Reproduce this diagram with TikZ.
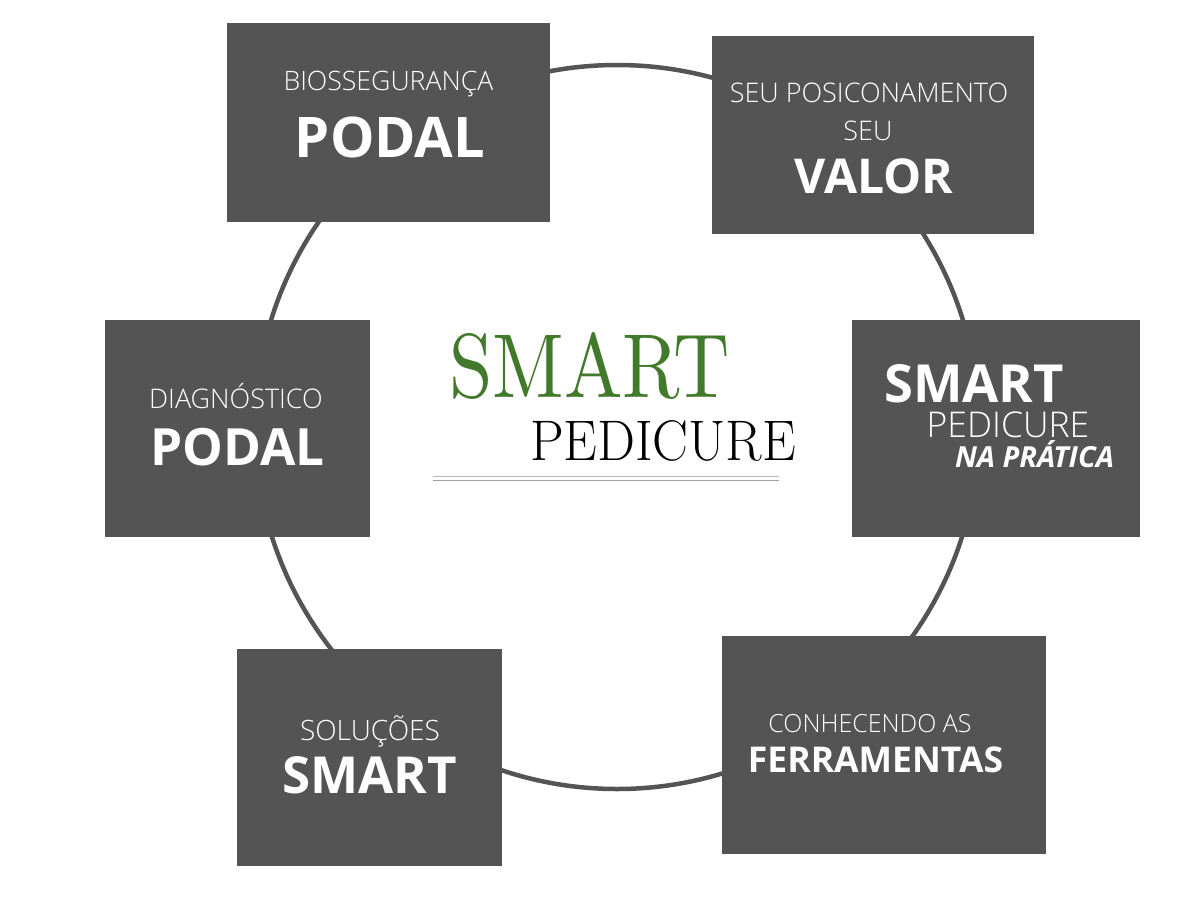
\documentclass[tikz,border=0pt]{standalone}
\usepackage{fontspec}
\usepackage{graphicx}
\setmainfont{Open Sans}
\IfFontExistsTF{Open Sans Light}{\newfontfamily\lightf{Open Sans Light}}{\newfontfamily\lightf{Open Sans}}
\newfontfamily\didone{lmroman17-regular.otf}
\newfontfamily\didoneheavy{lmroman10-regular.otf}
\definecolor{boxgray}{RGB}{84,84,84}
\definecolor{smartgreen}{RGB}{66,122,44}
\definecolor{ringgray}{RGB}{84,84,84}
\begin{document}
\begin{tikzpicture}[x=1pt,y=-1pt,
  box/.style={fill=boxgray, draw=none, inner sep=0pt, outer sep=0pt},
  lt/.style={text=white, anchor=base, inner sep=0pt, font=\lightf},
  bd/.style={text=white, anchor=base, inner sep=0pt, font=\bfseries},
  ring/.style={draw=ringgray, line width=4.5pt},
  title/.style={anchor=base, inner sep=0pt}]
\fill[white] (0,0) rectangle (1200,900);
\useasboundingbox (0,0) rectangle (1200,900);
% ring
\coordinate (c) at (617,427);
\draw[ring] (c) circle[radius=362pt];
% boxes
\node[box, minimum width=323pt, minimum height=199pt] (b1) at (388.5,122.5) {};
\node[box, minimum width=322pt, minimum height=198pt] (b2) at (873,135) {};
\node[box, minimum width=288pt, minimum height=217pt] (b3) at (996,428.5) {};
\node[box, minimum width=265pt, minimum height=217pt] (b4) at (237.5,428.5) {};
\node[box, minimum width=265pt, minimum height=217pt] (b5) at (369.5,757.5) {};
\node[box, minimum width=324pt, minimum height=218pt] (b6) at (884,745) {};
% box 1
\node[lt] (t1a) at (388.5,90) {\fontsize{26.7}{27}\selectfont BIOSSEGURANÇA};
\node[bd] (t1b) at (390,157) {\fontsize{56}{56}\selectfont PODAL};
% box 2
\node[lt] (t2a) at (869,102) {\fontsize{27}{27}\selectfont SEU POSICONAMENTO};
\node[lt] (t2b) at (868,140) {\fontsize{27}{27}\selectfont SEU};
\node[bd] (t2c) at (874,193) {\fontsize{48}{48}\selectfont VALOR};
% box 3
\node[bd] (t3a) at (974,402) {\fontsize{52.5}{52}\selectfont SMART};
\node[lt] (t3b) at (1008,437) {\fontsize{35.5}{35}\selectfont PEDICURE};
\node[bd] (t3c) at (1034.5,467) {\fontsize{29}{29}\selectfont\itshape NA PRÁTICA};
% box 4
\node[lt] (t4a) at (236,408) {\fontsize{27}{27}\selectfont DIAGNÓSTICO};
\node[bd] (t4b) at (237.5,465) {\fontsize{51.3}{51}\selectfont PODAL};
% box 5
\node[lt] (t5a) at (370,740) {\fontsize{28}{28}\selectfont SOLUÇÕES};
\node[bd] (t5b) at (369.5,793) {\fontsize{51}{51}\selectfont SMART};
% box 6
\node[lt] (t6a) at (870,732) {\fontsize{25}{25}\selectfont CONHECENDO AS};
\node[bd] (t6b) at (875.5,772) {\fontsize{35.5}{35}\selectfont FERRAMENTAS};
% centre title
\node[title, text=smartgreen] (s1) at (589.5,397) {\resizebox{281pt}{65pt}{\didoneheavy\fontsize{60}{60}\selectfont SMART}};
\node[title, text=black] (s2) at (663,460) {\resizebox{266pt}{40pt}{\didone\fontsize{60}{60}\selectfont PEDICURE}};
\draw[draw={rgb,255:red,185;green,185;blue,185}, line width=1pt] (433,476) -- (779,476);
\draw[draw={rgb,255:red,160;green,160;blue,160}, line width=1pt] (433,480) -- (779,480);
\end{tikzpicture}
\end{document}
